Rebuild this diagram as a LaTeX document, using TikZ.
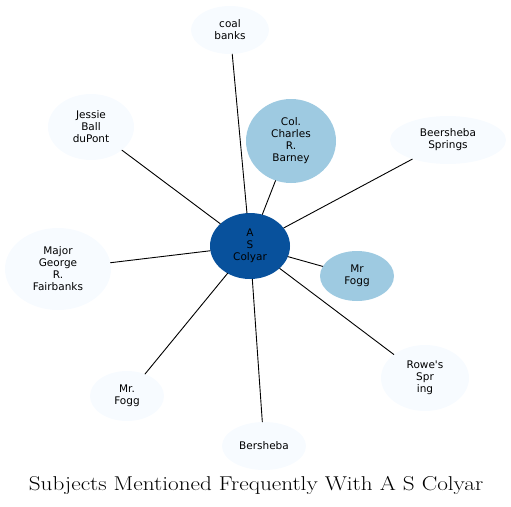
\documentclass[tikz,border=0pt]{standalone}
\usepackage{fontspec}
\newfontfamily\labelfont{DejaVu Sans}
\usetikzlibrary{shapes.geometric}

\definecolor{hubblue}{HTML}{08519C}
\definecolor{midblue}{HTML}{9ECAE1}
\definecolor{paleblue}{HTML}{F7FBFF}

\begin{document}
\begin{tikzpicture}[
  x=1pt,
  y=-1pt,
  line join=round,
  line cap=round,
  subject/.style={ellipse,draw=none,inner sep=0pt,align=center,
    font=\labelfont\fontsize{10.5}{12}\selectfont},
  hub/.style={subject,fill=hubblue},
  near/.style={subject,fill=midblue},
  far/.style={subject,fill=paleblue},
  link/.style={draw=black,line width=0.9pt}
]
  \useasboundingbox (0,0) rectangle (511,506);

  % Central subject.
  \node[hub,minimum width=80pt,minimum height=66pt] (colyar) at (250,246) {A\\S\\Colyar};

  % Subjects mentioned with it.
  \node[far,minimum width=78pt,minimum height=48pt] (coal) at (230,30) {coal\\banks};
  \node[near,minimum width=90pt,minimum height=84pt] (barney) at (291,141) {Col.\\Charles\\R.\\Barney};
  \node[far,minimum width=86pt,minimum height=66pt] (dupont) at (91,127) {Jessie\\Ball\\duPont};
  \node[far,minimum width=116pt,minimum height=48pt] (beersheba) at (448,140) {Beersheba\\Springs};
  \node[far,minimum width=106pt,minimum height=82pt] (fairbanks) at (58,269) {Major\\George\\R.\\Fairbanks};
  \node[near,minimum width=74pt,minimum height=50pt] (fogg) at (357,276) {Mr\\Fogg};
  \node[far,minimum width=88pt,minimum height=66pt] (rowe) at (425,378) {Rowe's\\Spr\\ing};
  \node[far,minimum width=74pt,minimum height=50pt] (mrfogg) at (127,396) {Mr.\\Fogg};
  \node[far,minimum width=84pt,minimum height=48pt] (bersheba) at (264,446) {Bersheba};

  % Links from the centre.
  \foreach \n in {coal,barney,dupont,beersheba,fairbanks,fogg,rowe,mrfogg,bersheba} {
    \draw[link] (colyar) -- (\n);
  }

  % Caption.
  \node[font=\fontsize{20}{24}\selectfont] (caption) at (256,485)
    {\scalebox{1.16}[1]{Subjects Mentioned Frequently With A S Colyar}};
\end{tikzpicture}
\end{document}
